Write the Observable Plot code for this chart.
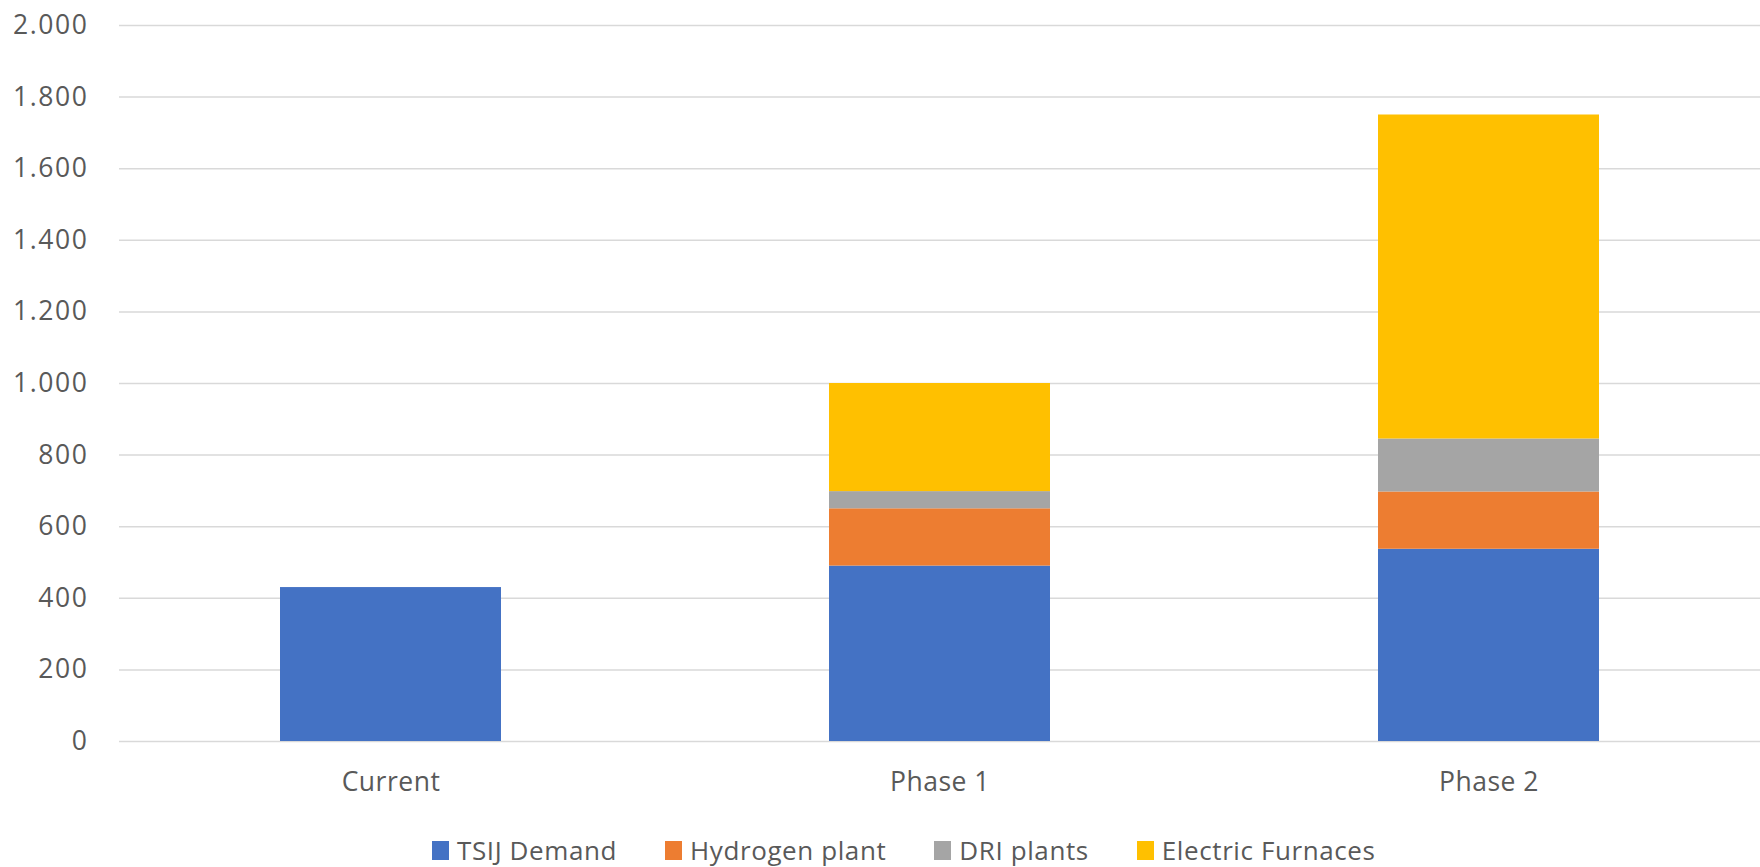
<!DOCTYPE html>
<html>
<head>
<meta charset="utf-8">
<script src="https://cdn.jsdelivr.net/npm/d3@7"></script>
<script src="https://cdn.jsdelivr.net/npm/@observablehq/plot@0.6"></script>
<style>
  html, body { margin: 0; padding: 0; background: #fff; }
  #chart svg { display: block; }
  #legend {
    position: absolute; left: 432px; top: 835px;
    display: flex; align-items: center;
    font-family: "Open Sans", sans-serif; font-size: 26px; line-height: 30px;
    letter-spacing: 0.6px; color: #595959; white-space: nowrap;
  }
  .item { display: flex; align-items: center; margin-right: 48px; }
  .item:last-child { margin-right: 0; }
  .sw { width: 17px; height: 19px; margin-right: 8px; display: inline-block; }
</style>
</head>
<body>
<div id="chart"></div>
<div id="legend"></div>
<script>
const categories = ["Current", "Phase 1", "Phase 2"];
const seriesNames = ["TSIJ Demand", "Hydrogen plant", "DRI plants", "Electric Furnaces"];
const seriesColors = ["#4472C4", "#ED7D31", "#A5A5A5", "#FFC000"];
const tsijDemand = [430, 490, 537];
const hydrogenPlant = [0, 160, 160];
const driPlants = [0, 48, 148];
const electricFurnaces = [0, 302, 905];
const yTicks = [0, 200, 400, 600, 800, 1000, 1200, 1400, 1600, 1800, 2000];

const seriesValues = [tsijDemand, hydrogenPlant, driPlants, electricFurnaces];
const data = [];
seriesNames.forEach((s, si) => {
  categories.forEach((c, ci) => {
    data.push({category: c, series: s, value: seriesValues[si][ci]});
  });
});

const locale = d3.formatLocale({decimal: ",", thousands: ".", grouping: [3], currency: ["", ""]});
const fmt = locale.format(",");

const chart = Plot.plot({
  width: 1760,
  height: 805,
  marginLeft: 119,
  marginRight: 0,
  marginTop: 25,
  marginBottom: 64,
  style: {fontFamily: "'Open Sans', sans-serif", fontSize: "26px", color: "#595959", background: "#fff"},
  x: {domain: categories, paddingInner: 0.598, paddingOuter: 0.2935, label: null},
  y: {domain: [0, 2000], label: null},
  color: {domain: seriesNames, range: seriesColors},
  marks: [
    Plot.gridY(yTicks, {stroke: "#d9d9d9", strokeOpacity: 1, strokeWidth: 1.5}),
    Plot.barY(data, {x: "category", y: "value", fill: "series", z: "series", order: seriesNames}),
    Plot.axisY(yTicks, {tickSize: 0, tickPadding: 31, tickFormat: fmt, fill: "#595959", label: null, fontSize: 26.5}),
    Plot.axisX({tickSize: 0, tickPadding: 31, fill: "#595959", label: null, fontSize: 26.5})
  ]
});
chart.querySelectorAll('[aria-label="y-axis tick label"] text').forEach(t => t.setAttribute("letter-spacing", "1.6"));
chart.querySelectorAll('[aria-label="x-axis tick label"] text').forEach(t => t.setAttribute("letter-spacing", "0.5"));
document.getElementById("chart").appendChild(chart);

const legend = document.getElementById("legend");
seriesNames.forEach((s, i) => {
  const item = document.createElement("div");
  item.className = "item";
  const sw = document.createElement("span");
  sw.className = "sw";
  sw.style.background = seriesColors[i];
  const t = document.createElement("span");
  t.textContent = s;
  item.appendChild(sw);
  item.appendChild(t);
  legend.appendChild(item);
});
</script>
</body>
</html>
